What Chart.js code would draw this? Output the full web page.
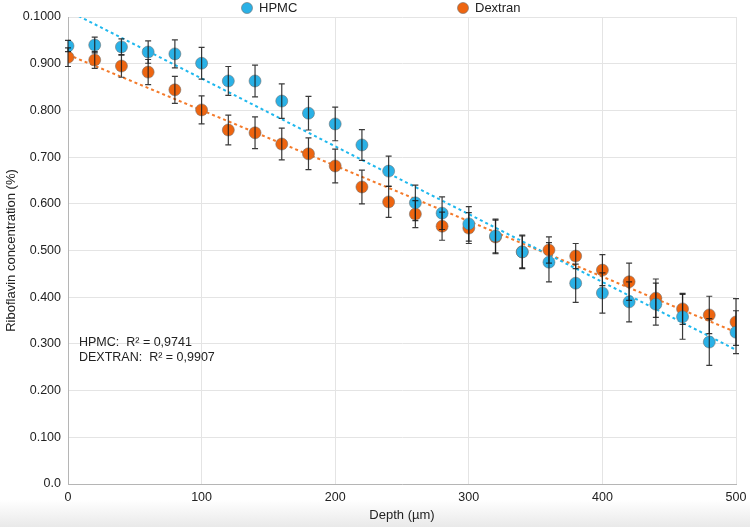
<!DOCTYPE html>
<html lang="en">
<head>
    <meta charset="UTF-8">
    <title>Riboflavin concentration vs depth</title>
    <script src="https://cdn.jsdelivr.net/npm/chart.js"></script>
    <style>
        html, body {
            margin: 0;
            padding: 0;
            width: 750px;
            height: 527px;
            overflow: hidden;
            background: linear-gradient(to bottom, #ffffff 0px, #ffffff 500px, #e9e9e9 527px);
            font-family: "Liberation Sans", Arial, sans-serif;
        }
        #wrap {
            position: relative;
            width: 750px;
            height: 527px;
        }
    </style>
</head>
<body>
    <div id="wrap">
        <canvas id="chart" width="750" height="527"></canvas>
    </div>

    <script>
        // depth in µm
        const depths = [0, 20, 40, 60, 80, 100, 120, 140, 160, 180, 200, 220, 240, 260, 280, 300, 320, 340, 360, 380, 400, 420, 440, 460, 480, 500];

        const hpmcValues = [0.938, 0.940, 0.936, 0.925, 0.921, 0.901, 0.863, 0.863, 0.820, 0.794, 0.771, 0.726, 0.670, 0.602, 0.580, 0.557, 0.531, 0.497, 0.475, 0.430, 0.409, 0.390, 0.385, 0.358, 0.304, 0.325];
        const hpmcErrors = [0.012, 0.017, 0.017, 0.024, 0.030, 0.034, 0.031, 0.034, 0.037, 0.036, 0.036, 0.033, 0.032, 0.038, 0.035, 0.037, 0.036, 0.034, 0.042, 0.041, 0.043, 0.043, 0.045, 0.048, 0.050, 0.046];

        const dextranValues = [0.914, 0.908, 0.895, 0.882, 0.844, 0.801, 0.758, 0.752, 0.728, 0.707, 0.681, 0.636, 0.604, 0.578, 0.552, 0.548, 0.529, 0.497, 0.501, 0.488, 0.458, 0.433, 0.398, 0.375, 0.362, 0.347];
        const dextranErrors = [0.020, 0.018, 0.024, 0.027, 0.029, 0.030, 0.032, 0.034, 0.034, 0.034, 0.036, 0.036, 0.033, 0.029, 0.030, 0.033, 0.036, 0.036, 0.028, 0.027, 0.033, 0.040, 0.041, 0.033, 0.040, 0.050];

        const yTicks = [0, 0.1, 0.2, 0.3, 0.4, 0.5, 0.6, 0.7, 0.8, 0.9, 1.0];
        const xTicks = [0, 100, 200, 300, 400, 500];

        const r2Labels = ['HPMC:  R\u00b2 = 0,9741', 'DEXTRAN:  R\u00b2 = 0,9907'];

        const blue = '#2ab1e6';
        const orange = '#ee6510';
        const fontFamily = '"Liberation Sans", Arial, sans-serif';

        // least squares fit for the dotted trend lines
        function linearFit(xs, ys) {
            const n = xs.length;
            let sx = 0, sy = 0, sxy = 0, sxx = 0;
            for (let i = 0; i < n; i++) {
                sx += xs[i]; sy += ys[i];
                sxy += xs[i] * ys[i]; sxx += xs[i] * xs[i];
            }
            const slope = (n * sxy - sx * sy) / (n * sxx - sx * sx);
            const intercept = (sy - slope * sx) / n;
            return [
                { x: xs[0], y: intercept + slope * xs[0] },
                { x: xs[n - 1], y: intercept + slope * xs[n - 1] }
            ];
        }

        function points(values) {
            return depths.map((d, i) => ({ x: d, y: values[i] }));
        }

        // error bars, drawn from the error arrays through the chart scales
        const errorBars = {
            id: 'errorBars',
            afterDatasetsDraw(chart) {
                const ctx = chart.ctx;
                const xs = chart.scales.x, ys = chart.scales.y;
                const sets = [[hpmcValues, hpmcErrors], [dextranValues, dextranErrors]];
                ctx.save();
                ctx.strokeStyle = 'rgba(25,25,25,0.85)';
                ctx.lineWidth = 1.2;
                sets.forEach(([vals, errs]) => {
                    depths.forEach((d, i) => {
                        const px = xs.getPixelForValue(d);
                        const top = ys.getPixelForValue(vals[i] + errs[i]);
                        const bot = ys.getPixelForValue(vals[i] - errs[i]);
                        ctx.beginPath();
                        ctx.moveTo(px, top); ctx.lineTo(px, bot);
                        ctx.moveTo(px - 3, top); ctx.lineTo(px + 3, top);
                        ctx.moveTo(px - 3, bot); ctx.lineTo(px + 3, bot);
                        ctx.stroke();
                    });
                });
                ctx.restore();
            }
        };

        // legend on top and the R² note inside the plot
        const annotations = {
            id: 'annotations',
            afterDraw(chart) {
                const ctx = chart.ctx;
                const area = chart.chartArea;
                ctx.save();
                ctx.font = '13px ' + fontFamily;
                ctx.textBaseline = 'middle';

                const legendItems = [['HPMC', blue, area.left + 179], ['Dextran', orange, area.left + 395]];
                legendItems.forEach(([label, color, cx]) => {
                    ctx.beginPath();
                    ctx.arc(cx, 8, 5.5, 0, Math.PI * 2);
                    ctx.fillStyle = color;
                    ctx.fill();
                    ctx.strokeStyle = 'rgba(110,110,110,0.6)';
                    ctx.lineWidth = 1;
                    ctx.stroke();
                    ctx.fillStyle = '#222';
                    ctx.fillText(label, cx + 12, 8);
                });

                ctx.font = '12.5px ' + fontFamily;
                const y0 = chart.scales.y.getPixelForValue(0.3) - 1;
                r2Labels.forEach((t, i) => {
                    ctx.fillText(t, area.left + 11, y0 + i * 15);
                });
                ctx.restore();
            }
        };

        const ctx = document.getElementById('chart').getContext('2d');
        const myChart = new Chart(ctx, {
            type: 'scatter',
            data: {
                datasets: [
                    {
                        label: 'HPMC',
                        data: points(hpmcValues),
                        backgroundColor: blue,
                        borderColor: 'rgba(110,110,110,0.55)',
                        borderWidth: 1,
                        pointRadius: 6,
                        order: 1
                    },
                    {
                        label: 'Dextran',
                        data: points(dextranValues),
                        backgroundColor: orange,
                        borderColor: 'rgba(110,110,110,0.55)',
                        borderWidth: 1,
                        pointRadius: 6,
                        order: 2
                    },
                    {
                        type: 'line',
                        label: 'HPMC trend',
                        data: linearFit(depths, hpmcValues),
                        borderColor: '#1fb8ee',
                        borderWidth: 2,
                        borderDash: [3, 3],
                        pointRadius: 0,
                        fill: false,
                        order: 3
                    },
                    {
                        type: 'line',
                        label: 'Dextran trend',
                        data: linearFit(depths, dextranValues),
                        borderColor: '#f47a2a',
                        borderWidth: 2,
                        borderDash: [3, 3],
                        pointRadius: 0,
                        fill: false,
                        order: 4
                    }
                ]
            },
            options: {
                responsive: false,
                animation: false,
                layout: { padding: { top: 17, right: 0, left: 0, bottom: 0 } },
                plugins: {
                    legend: { display: false },
                    tooltip: { enabled: false }
                },
                scales: {
                    x: {
                        type: 'linear',
                        min: 0,
                        max: 500,
                        afterBuildTicks: axis => { axis.ticks = xTicks.map(v => ({ value: v })); },
                        grid: { color: '#e4e4e4', drawTicks: false },
                        border: { color: '#b5b5b5' },
                        ticks: {
                            color: '#222',
                            font: { size: 12.5, family: fontFamily },
                            padding: 6
                        },
                        title: {
                            display: true,
                            text: 'Depth (\u00b5m)',
                            color: '#222',
                            font: { size: 13, family: fontFamily },
                            padding: { top: 3 }
                        },
                        afterFit: axis => {
                            axis.height = 43;
                            axis.paddingRight = 14;
                        }
                    },
                    y: {
                        min: 0,
                        max: 1.0,
                        afterBuildTicks: axis => { axis.ticks = yTicks.map(v => ({ value: v })); },
                        grid: { color: '#e4e4e4', drawTicks: false },
                        border: { color: '#b5b5b5' },
                        ticks: {
                            color: '#222',
                            font: { size: 12.5, family: fontFamily },
                            padding: 7,
                            callback: v => {
                                if (v === 0) return '0.0';
                                if (v >= 0.999) return '0.1000';
                                return v.toFixed(3);
                            }
                        },
                        title: {
                            display: true,
                            text: 'Riboflavin concentration (%)',
                            color: '#222',
                            font: { size: 13, family: fontFamily },
                            padding: { bottom: 1 }
                        },
                        afterFit: axis => { axis.width = 68; }
                    }
                }
            },
            plugins: [errorBars, annotations]
        });
    </script>
</body>
</html>
